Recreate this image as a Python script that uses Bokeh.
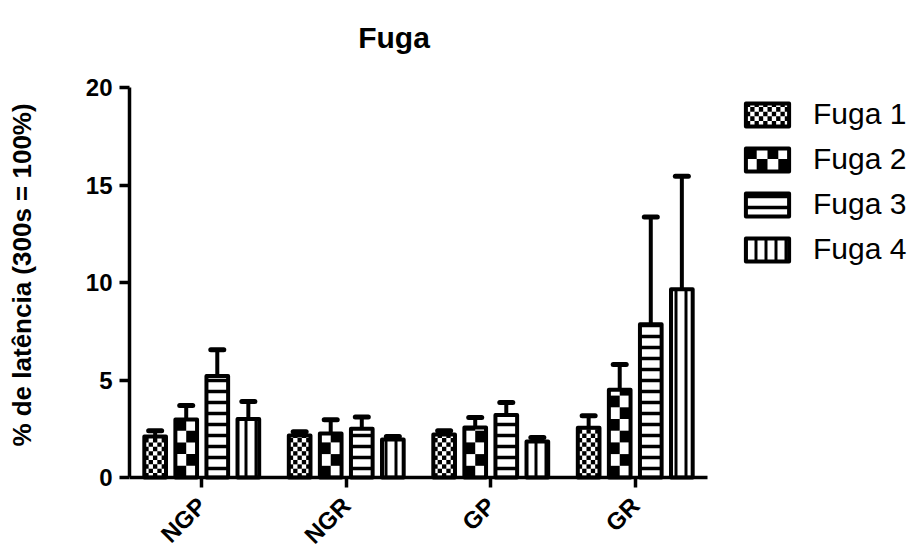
import math
from bokeh.plotting import figure
from bokeh.models import (ColumnDataSource, Range1d, Legend, LegendItem,
                          FixedTicker, Label, LinearAxis)
from bokeh.embed import file_html
from bokeh.resources import INLINE

# ---- data ----
groups = ["NGP", "NGR", "GP", "GR"]
series = ["Fuga 1", "Fuga 2", "Fuga 3", "Fuga 4"]
fuga1 = [2.1, 2.15, 2.2, 2.55]
fuga2 = [2.97, 2.26, 2.56, 4.5]
fuga3 = [5.2, 2.5, 3.2, 7.86]
fuga4 = [3.0, 1.95, 1.85, 9.65]
err1 = [0.3, 0.2, 0.2, 0.62]
err2 = [0.72, 0.7, 0.52, 1.3]
err3 = [1.35, 0.6, 0.65, 5.5]
err4 = [0.9, 0.15, 0.2, 5.8]
y_ticks = [0, 5, 10, 15, 20]

values = [fuga1, fuga2, fuga3, fuga4]
errors = [err1, err2, err3, err4]

# ---- layout / style ----
FONT = "Liberation Sans"
offsets = [-0.3225, -0.1075, 0.1075, 0.3225]
BAR_W = 0.15
W, H = 912, 549
FRAME_L = 129                          # frame spans to right, top and bottom edges
FRAME_B = 549
AXIS_R, AXIS_T, AXIS_B = 707, 87, 477  # where the drawn axes sit
x_per_px = 4.0 / (AXIS_R - FRAME_L)
y_per_px = 20.0 / (AXIS_B - AXIS_T)
x_end = 3.5 + (W - AXIS_R) * x_per_px
y_end = 20 + AXIS_T * y_per_px
y_start = -(FRAME_B - AXIS_B) * y_per_px

# checker styles: (columns across the bar, row height in y units)
checker_bar = {0: (5, 0.225), 1: (2, 0.6)}
# legend geometry (screen px)
LEG_X, LEG_PITCH, LEG_C0 = 740, 45, 113.5
GLYPH_W, GLYPH_H, LABEL_H = 54, 29, 36
SPACING = LEG_PITCH - LABEL_H
LEG_TOP = LEG_C0 - LABEL_H / 2
LEG_BOTTOM = LEG_TOP + 4 * LABEL_H + 3 * SPACING
checker_leg = {0: (10, 5), 1: (4, 2)}

p = figure(width=W, height=H, x_range=Range1d(-0.5, x_end),
           y_range=Range1d(y_start, y_end), output_backend="svg",
           toolbar_location=None, title=None, y_axis_location=None,
           min_border_left=FRAME_L, min_border_right=0,
           min_border_top=0, min_border_bottom=H - FRAME_B)
p.extra_x_ranges = {"px": Range1d(FRAME_L, W)}
p.extra_y_ranges = {"px": Range1d(FRAME_B, 0)}
p.outline_line_color = None
p.xgrid.visible = False
p.ygrid.visible = False

p.add_layout(Label(x=393.5, y=37, x_range_name="px", y_range_name="px",
                   text="Fuga", text_align="center", text_baseline="alphabetic",
                   text_font=FONT, text_font_size="30px", text_font_style="bold",
                   text_color="black"))

items = []
for j in range(4):
    xs = [i + offsets[j] for i in range(len(groups))]
    tops = [v + e for v, e in zip(values[j], errors[j])]
    src = ColumnDataSource(dict(x=xs, v=values[j], top=tops))

    if j in checker_bar:
        ncol, rh = checker_bar[j]
        L, R, B, T = [], [], [], []
        for xc, v in zip(xs, values[j]):
            left = xc - BAR_W / 2
            cw = BAR_W / ncol
            for r in range(int(math.ceil(v / rh))):
                for c in range(ncol):
                    if (r + c) % 2 == 0:
                        L.append(left + c * cw)
                        R.append(left + (c + 1) * cw)
                        B.append(r * rh)
                        T.append(min((r + 1) * rh, v))
        p.quad(left=L, right=R, bottom=B, top=T, fill_color="black",
               line_color=None)
        # matching swatch pattern for the legend entry
        lc, lr = checker_leg[j]
        cy = LEG_C0 + j * LEG_PITCH
        x0, x1 = LEG_X + 0.1 * GLYPH_W, LEG_X + 0.9 * GLYPH_W
        y0, y1 = cy - 0.4 * GLYPH_H, cy + 0.4 * GLYPH_H
        cw, chh = (x1 - x0) / lc, (y1 - y0) / lr
        L, R, B, T = [], [], [], []
        for r in range(lr):
            for c in range(lc):
                if (r + c) % 2 == 0:
                    L.append(x0 + c * cw); R.append(x0 + (c + 1) * cw)
                    B.append(y0 + r * chh); T.append(y0 + (r + 1) * chh)
        p.quad(left=L, right=R, bottom=B, top=T, fill_color="black",
               line_color=None, x_range_name="px", y_range_name="px")
        fill = dict(fill_alpha=0)
    elif j == 2:
        fill = dict(fill_color="white", hatch_pattern="horizontal_line",
                    hatch_scale=11, hatch_weight=3.5, hatch_color="black")
    else:
        fill = dict(fill_color="white", hatch_pattern="vertical_line",
                    hatch_scale=10, hatch_weight=3, hatch_color="black")

    p.segment(x0="x", y0="v", x1="x", y1="top", source=src, line_color="black",
              line_width=4)
    p.scatter(x="x", y="top", source=src, marker="dash", size=13, line_width=5,
              line_color="black", line_cap="round")
    r = p.vbar(x="x", top="v", bottom=0, width=BAR_W, source=src,
               line_color="black", line_width=4, line_join="round", **fill)
    items.append(LegendItem(label=series[j], renderers=[r]))

legend = Legend(items=items,
                location=(int(LEG_X - FRAME_L), int(round(FRAME_B - LEG_BOTTOM))),
                padding=0, margin=0, spacing=SPACING,
                glyph_width=GLYPH_W, glyph_height=GLYPH_H, label_height=LABEL_H,
                label_standoff=19, label_text_font=FONT,
                label_text_font_size="30px", label_text_color="black",
                label_text_baseline="middle",
                border_line_color=None, background_fill_alpha=0)
p.add_layout(legend, "center")

# value axis
yax = LinearAxis(bounds=(0, 20), ticker=FixedTicker(ticks=y_ticks))
p.add_layout(yax, "left")
# axis carrying only the title
yttl = LinearAxis(ticker=FixedTicker(ticks=[]),
                  axis_line_color=None, major_tick_line_color=None,
                  minor_tick_line_color=None,
                  axis_label="% de latência (300s = 100%)",
                  axis_label_text_font=FONT, axis_label_text_font_size="26px",
                  axis_label_text_font_style="bold",
                  axis_label_text_color="black", axis_label_standoff=46)
p.add_layout(yttl, "left")

for ax in (p.xaxis[0], yax):
    ax.axis_line_width = 3.5
    ax.axis_line_color = "black"
    ax.major_tick_line_width = 3.5
    ax.major_tick_line_color = "black"
    ax.major_tick_out = 10
    ax.major_tick_in = 0
    ax.minor_tick_line_color = None
    ax.major_label_text_font = FONT
    ax.major_label_text_font_style = "bold"
    ax.major_label_text_color = "black"

yax.major_label_text_font_size = "24px"
yax.major_label_standoff = 7

xax = p.xaxis[0]
xax.fixed_location = 0
xax.bounds = (-0.5, 3.5)
xax.ticker = FixedTicker(ticks=list(range(len(groups))))
xax.major_label_overrides = {i: g for i, g in enumerate(groups)}
xax.major_label_text_font_size = "24px"
xax.major_label_orientation = 0.785398
xax.major_label_standoff = 14

open("out.html", "w").write(file_html(p, INLINE))
